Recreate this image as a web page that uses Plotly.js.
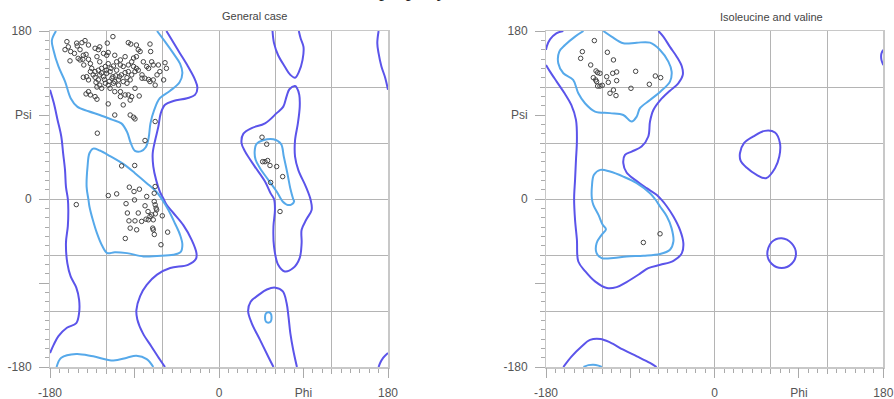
<!DOCTYPE html>
<html>
<head>
<meta charset="utf-8">
<script src="https://cdn.plot.ly/plotly-3.0.1.min.js"></script>
<style>html,body{margin:0;padding:0;background:#fff;}#chart{width:894px;height:399px;}</style>
</head>
<body>
<div id="chart"></div>
<script>
// ---------- DATA (phi, psi in degrees) ----------
const panelTitles = ["General case", "Isoleucine and valine"];
const pageTextAbove = "property";
const axisTickVals = [-180, -90, 0, 90, 180];
const xTickText = ["-180", "", "0", "Phi", "180"];
const yTickText = ["-180", "", "0", "Psi", "180"];

// General case - outer (allowed) contours
const genDark1 = [[-56,180],[-50,170],[-41.5,156],[-33,142],[-25.6,128],[-23,119],[-25.6,111.5],[-34,108],[-48.6,105],[-57.5,101],[-62,92],[-64.6,77.5],[-68,63],[-70.6,49],[-70,35],[-67,20.5],[-63,8],[-59,0],[-56,-6],[-48.6,-15],[-38,-28],[-29,-44],[-24,-58],[-24.5,-64],[-33,-70.5],[-52,-74],[-66,-81],[-77,-92],[-84,-104],[-88,-119],[-87,-129],[-81,-144],[-72,-158],[-63,-172],[-57.5,-180]];
const genDark2 = [[-180,117],[-176,103],[-172,85],[-168,67],[-166,49],[-164,31],[-163,13],[-161,0],[-160.5,-12],[-161,-29],[-163,-47],[-161.5,-69],[-158,-83],[-152,-95],[-149,-108],[-149,-122],[-152,-133],[-162,-138],[-171,-147],[-176,-156],[-180,-165]];
const genDark3 = [[170,180],[168.6,167],[170,156],[173,142],[177,130],[180,117]];
const genDark4 = [[180,-165],[175,-170],[171.5,-176],[170,-180]];
const genDark5 = [[57,180],[58.6,167],[63,154],[70,142],[76,133],[81,130],[85,136],[89,149],[90,163],[87,172],[85,180]];
const genDark6 = [[58,-180],[52.5,-169],[43.7,-151],[34.8,-133],[31,-120],[33.7,-110],[42,-103],[51,-97],[60,-95],[68,-99],[72,-111.5],[74,-126],[76,-144],[79,-161.5],[83,-180]];
const genDark7 = [[81,121],[75,117.6],[72,110],[68.5,99],[61.4,92],[49,81],[34.8,76],[26,70],[24,60],[27.7,51],[38,35],[49,18.7],[55,6],[58.6,0],[59.6,-11.6],[58,-29.4],[58.6,-51],[63,-70.5],[70,-77.6],[79,-74],[86,-63],[88,-47],[88,-33],[93,-22],[98.7,-11.6],[97.6,-1],[92.6,13],[84.5,31],[81,45.5],[81,63],[84,81],[86,99],[85.5,111.5],[83,119],[81,121]];
// General case - inner (favoured) contours
const genLight1 = [[-173.6,180],[-178,170],[-176.4,160],[-171,142],[-164,126],[-158,108],[-151,99],[-139,94],[-127,90],[-114,85],[-104,81],[-98,72],[-94,60],[-89.5,51.6],[-83.4,51],[-78,55.5],[-75,65],[-73,81],[-69,95.5],[-63,108],[-52,116],[-42,125],[-39,135],[-41.5,145],[-48.6,156],[-57.5,168.6],[-66,180]];
const genLight1b = [[-173,-180],[-168,-170],[-152,-166],[-134,-168.6],[-112.5,-173],[-98,-170],[-88,-168],[-77,-171.5],[-70,-180]];
const genLight2 = [[-140,35],[-138,49],[-134,54],[-127,52],[-116,46],[-102,37.6],[-89.5,27.7],[-77,17],[-66,7],[-61,0],[-54,-11.6],[-47,-26],[-41.5,-38.4],[-39,-49],[-41,-57],[-48.6,-59.8],[-66,-61],[-80.6,-61.5],[-98,-58],[-111,-57],[-119,-58],[-125,-49],[-130,-36.6],[-134.5,-22],[-138,-8],[-139,-1],[-141,13],[-140,35]];
const genLight3 = [[38,51],[40,59],[47,63],[58,64],[66,59],[69,45.5],[72.8,27.7],[76.3,9.8],[79,0],[80,-2.7],[77,-6],[72,-6],[67.8,-2.7],[66,0],[61.4,8],[52.5,20.5],[43.7,33],[39,42],[38,51]];
const genLight4 = [[52.5,-121.3],[55,-122.5],[56,-127],[55,-131.5],[52.5,-132.7],[50,-131.5],[49,-127],[50,-122.5],[52.5,-121.3]];

// General case residues
const genPoints = [[-162,168.6],[-160.5,163],[-164,160],[-158,158],[-158.7,148],[-151.6,167],[-146,167.5],[-151,164],[-148,160],[-142.7,169.7],[-139,165],[-144.5,154],[-141.6,155],[-145,149.7],[-139,149.7],[-137,145],[-148,149],[-144,143.6],[-150,150.7],[-154,156],[-132,161.5],[-128.5,160],[-127,163],[-119,167],[-113,174],[-123,156],[-127,147],[-130,152.5],[-119.6,154],[-118,157],[-111,154],[-109,147],[-105,149],[-100,152.5],[-96.6,167.5],[-94,166],[-88,165],[-86,160],[-73.5,166],[-72.8,158],[-84,158],[-91,151],[-88,152.5],[-93,147],[-96.6,143.6],[-102,142],[-105,143.6],[-109,138],[-112.5,142.5],[-118,145],[-121,142],[-125,140],[-128.5,138],[-132,136.5],[-135.6,140],[-137,136.5],[-141,131],[-144.5,130.4],[-139,127.6],[-132,130.4],[-128.5,127.6],[-127,133],[-123,131],[-119.6,134.7],[-116,136.5],[-114,129.4],[-111,125.8],[-107,127.6],[-104,133],[-100,135.4],[-96.6,136.5],[-93,133],[-89.5,136.5],[-86,138],[-82,133],[-77,142],[-75,140],[-71.7,147],[-70,143.6],[-64.6,143.6],[-63,136.5],[-56,140],[-57.5,146],[-66,133],[-70,127.6],[-75,128],[-79,129.4],[-80.6,147],[-88,140],[-91,142],[-94.6,127.6],[-98,124],[-102,125.8],[-107,122],[-112.5,124],[-118,122],[-121,124],[-127,122],[-130,120],[-125,118.6],[-116,118.6],[-111,115],[-105,115],[-100,111.5],[-96.6,111.5],[-93,109.7],[-89.5,118.6],[-85,110.4],[-94.6,106],[-105,109.7],[-118,101.9],[-102,100.8],[-130,106.9],[-132,109.7],[-137,111.5],[-141.6,112.6],[-139,115],[-111,90],[-94.6,90],[-91,87.6],[-89.5,85.8],[-68,83],[-129.6,70.5],[-78.8,62.7],[-59,127.6],[-68,122],[-73.5,125.8],[-82,129.4],[-122,128],[-117,126],[-113,131],[-120,138],[-110,132],[-125,135],[-134,133],[-106,131],[-98,130],[-131,125],[-115,140],[-103.7,35.5],[-89.8,35.9],[-117.9,3.7],[-109,5.5],[-95.5,12.7],[-90.5,8],[-84.8,10.5],[-77,2.7],[-69,6.2],[-68,13.4],[-152,-6],[-99,-5],[-90,-1],[-78.8,-7.3],[-69,-2.7],[-68,-6.2],[-67,-9.8],[-97.6,-15],[-86,-15],[-75.6,-13.4],[-71.7,-17],[-67.8,-15.9],[-60.4,-18],[-75.3,-22.3],[-70,-22.3],[-82.4,-24],[-89.5,-23.4],[-95.9,-23.4],[-94.6,-31.2],[-87.7,-33],[-70.6,-31.2],[-70,-33],[-68.9,-38],[-54.7,-35.5],[-99.8,-42.3],[-61.8,-49],[-77.7,-21.6],[-73.5,-18.7],[-66.4,-11.6],[45.8,66.2],[50.8,58.7],[46.5,40],[49,40],[51.8,41.2],[54.3,35.9],[61.4,34.8],[67.8,24],[55,17.7],[65,-13.4]];

// Isoleucine and valine - outer contours
const ivDark1 = [[-161.5,180],[-169,177.5],[-175.7,171],[-179,164],[-180,159.7]];
const ivDark2 = [[180,159.7],[178,156],[178,149],[180,143.6]];
const ivDark3 = [[-180,143.6],[-175.7,136.5],[-168.6,125.8],[-160,113],[-153,100.8],[-148,84.7],[-147,63.3],[-148,42],[-149,20.5],[-150,0],[-149,-22.3],[-147,-43.7],[-145.5,-67],[-138,-77.6],[-127.7,-88.3],[-115,-95.4],[-104.6,-94.4],[-94,-89],[-79.7,-80],[-70.8,-74],[-58,-70.5],[-44,-66.2],[-35,-58],[-33.4,-47.3],[-37,-33],[-44,-18.7],[-51,-8],[-56.6,-1],[-62,4.5],[-72.6,11.6],[-85,20.5],[-94,28.4],[-97.5,38.4],[-95.7,47.3],[-88.6,50.8],[-78,56.2],[-70.8,67],[-69,83],[-65.4,95.4],[-58,106],[-47.7,116],[-38.8,124],[-34,133],[-35,142],[-40.5,152.5],[-47.7,163],[-54.8,174],[-60,180]];
const ivDark4 = [[-161.5,-180],[-152.6,-168.6],[-142,-158],[-133,-151],[-122,-150],[-111.7,-153.6],[-97.5,-161.5],[-83,-168.6],[-69,-175.7],[-62,-180]];
const ivDark5 = [[27,49],[31.3,59.8],[41.3,67],[53.7,73],[64.4,71.2],[69.7,59.8],[69,45.5],[64.4,33],[54.8,22.3],[44.8,25.9],[34,33.7],[27.7,41.2],[27,49]];
const ivDark6 = [[86.8,-58.9],[82.2,-47.6],[71.5,-42],[60.8,-46.2],[56.2,-58.9],[60.8,-69.4],[71.5,-74],[82.2,-69.4],[86.8,-58.9]];
// Isoleucine and valine - inner contours
const ivLight1 = [[-140,180],[-149,174],[-159.7,165],[-165.8,158],[-166.9,145.4],[-161.5,134.7],[-151,127.6],[-145.5,113.3],[-138.4,102.6],[-127.7,93.7],[-111.7,92],[-97.5,90],[-88.6,83],[-83.2,88.3],[-79.7,97.3],[-69,106],[-58,115],[-47.7,125.8],[-45.9,136.5],[-49.4,147.2],[-58.3,159.7],[-69,167.5],[-83.2,167.5],[-97.5,166.8],[-110,174],[-118.8,180]];
const ivLight1b = [[-140,-180],[-134.7,-178],[-129.5,-177.5],[-124,-178.5],[-120.5,-180]];
const ivLight2 = [[-131,0],[-131,13.4],[-128.8,25.9],[-122,31.2],[-111.7,29.4],[-97.5,24],[-83.2,17],[-69,6.2],[-63.7,0],[-58.3,-8],[-51,-18.7],[-46,-31.2],[-44,-45.5],[-47.7,-54.4],[-58.3,-59],[-76,-60.8],[-94,-61.5],[-108,-63.3],[-120.6,-63.3],[-126,-58],[-126,-47.3],[-120.6,-38.4],[-116,-32.3],[-119.5,-27.7],[-124,-17],[-129.5,-6.2],[-131,0]];

// Isoleucine and valine residues
const ivPoints = [[-128.4,169.7],[-141.2,157.9],[-143,150.7],[-114.5,157.2],[-108,149],[-132.3,143.6],[-126.6,137.2],[-124.9,135.4],[-122.4,134.7],[-108.8,134.7],[-104.6,136.1],[-84.3,136.8],[-129.5,130],[-127,127.6],[-115.2,131],[-113.5,125],[-104.6,126.8],[-124.9,121],[-122.4,121],[-119.9,121.8],[-108,116.8],[-111.7,113.3],[-105.3,110.8],[-89.3,118.6],[-69.7,122.9],[-63.3,131.8],[-57.6,130],[-126,125.8],[-76.1,-46.6],[-58.3,-37.3]];

// ---------- STYLE ----------
const DARK = "#5b54ea";
const LIGHT = "#56a9ea";
const FONT = "Liberation Sans, Arial, sans-serif";

function line(pairs, color, xa, ya) {
  return {
    type: "scatter", mode: "lines",
    x: pairs.map(p => p[0]), y: pairs.map(p => p[1]),
    xaxis: xa, yaxis: ya,
    line: {color: color, width: 2, shape: "spline", smoothing: 1},
    hoverinfo: "skip"
  };
}
function pts(pairs, xa, ya) {
  return {
    type: "scatter", mode: "markers",
    x: pairs.map(p => p[0]), y: pairs.map(p => p[1]),
    xaxis: xa, yaxis: ya,
    marker: {symbol: "circle-open", size: 4.5, color: "#444", line: {width: 1, color: "#444"}}
  };
}

const traces = [];
[genDark1, genDark2, genDark3, genDark4, genDark5, genDark6, genDark7].forEach(c => traces.push(line(c, DARK, "x", "y")));
[genLight1, genLight1b, genLight2, genLight3, genLight4].forEach(c => traces.push(line(c, LIGHT, "x", "y")));
[ivDark1, ivDark2, ivDark3, ivDark4, ivDark5, ivDark6].forEach(c => traces.push(line(c, DARK, "x2", "y2")));
[ivLight1, ivLight1b, ivLight2].forEach(c => traces.push(line(c, LIGHT, "x2", "y2")));
// residues are drawn on the overlaid label axes (same ranges), so those axes render
traces.push(pts(genPoints, "x3", "y3"));
traces.push(pts(ivPoints, "x4", "y4"));

function gridAxis(domain, anchor) {
  return {
    domain: domain, anchor: anchor, range: [-180, 180], autorange: false, fixedrange: true,
    tickmode: "linear", tick0: 0, dtick: 60,
    showgrid: true, gridcolor: "#b4b4b4", gridwidth: 1, zeroline: false,
    showline: true, linecolor: "#c8c8c8", linewidth: 1.5, mirror: true,
    ticks: "outside", ticklen: 5, tickcolor: "#aaaaaa", showticklabels: false,
    minor: {tickmode: "linear", tick0: 0, dtick: 10, ticks: "outside", ticklen: 4, tickcolor: "#aaaaaa", showgrid: false}
  };
}
function labelAxis(overlay, anchor, text, domain) {
  return {
    overlaying: overlay, anchor: anchor, domain: domain, range: [-180, 180], autorange: false, fixedrange: true,
    tickmode: "array", tickvals: axisTickVals, ticktext: text,
    showgrid: false, zeroline: false, showline: false,
    ticks: "outside", ticklen: 10, tickcolor: "#aaaaaa",
    ticklabelstandoff: 5,
    tickfont: {family: FONT, size: 12, color: "#555"}
  };
}

const dom1 = [50/894, 388/894];
const dom2 = [546/894, 883.3/894];

const layout = {
  width: 894, height: 399,
  margin: {l: 0, r: 0, t: 31, b: 32},
  paper_bgcolor: "#fff", plot_bgcolor: "#fff",
  showlegend: false,
  xaxis: gridAxis(dom1, "y"),
  yaxis: gridAxis([0, 1], "x"),
  xaxis2: gridAxis(dom2, "y2"),
  yaxis2: gridAxis([0, 1], "x2"),
  xaxis3: labelAxis("x", "y3", xTickText, dom1),
  yaxis3: labelAxis("y", "x3", yTickText, [0, 1]),
  xaxis4: labelAxis("x2", "y4", xTickText, dom2),
  yaxis4: labelAxis("y2", "x4", yTickText, [0, 1]),
  annotations: [
    {text: panelTitles[0], xref: "paper", yref: "paper", x: 255/894, y: (367-16)/336, xanchor: "center", yanchor: "middle", showarrow: false, font: {family: FONT, size: 11, color: "#444"}},
    {text: panelTitles[1], xref: "paper", yref: "paper", x: 771/894, y: (367-17)/336, xanchor: "center", yanchor: "middle", showarrow: false, font: {family: FONT, size: 11, color: "#444"}},
    // bottom edge of a line of page text that sits above the cropped figure (only descenders show)
    {text: pageTextAbove, xref: "paper", yref: "paper", x: 377/894, y: (367-3.3)/336, xanchor: "left", yanchor: "bottom", showarrow: false, borderpad: 1, font: {family: "Liberation Serif, Times New Roman, serif", size: 20, color: "#222"}}
  ]
};

Plotly.newPlot("chart", traces, layout, {staticPlot: true, displayModeBar: false});
</script>
</body>
</html>
